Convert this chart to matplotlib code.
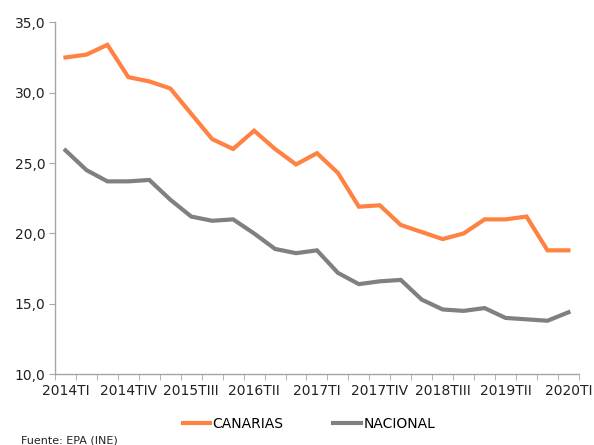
import numpy as np
import matplotlib
matplotlib.use("Agg")
import matplotlib.pyplot as plt
from matplotlib.ticker import FixedLocator, FuncFormatter

# quarters 2014TI .. 2020TI
quarters = []
for year in range(2014, 2021):
    for q in ["TI", "TII", "TIII", "TIV"]:
        quarters.append(str(year) + q)
quarters = quarters[:25]

canarias = [32.5, 32.7, 33.4, 31.1, 30.8, 30.3, 28.5, 26.7, 26.0, 27.3,
            26.0, 24.9, 25.7, 24.3, 21.9, 22.0, 20.6, 20.1, 19.6, 20.0,
            21.0, 21.0, 21.2, 18.8, 18.8]
nacional = [25.9, 24.5, 23.7, 23.7, 23.8, 22.4, 21.2, 20.9, 21.0, 20.0,
            18.9, 18.6, 18.8, 17.2, 16.4, 16.6, 16.7, 15.3, 14.6, 14.5,
            14.7, 14.0, 13.9, 13.8, 14.4]

orange = "#FF8243"
grey = "#808080"
axis_col = "#A6A6A6"

fig = plt.figure(figsize=(5.94, 4.45), dpi=100)
ax = fig.add_axes([0.0926, 0.159, 0.882, 0.791])

x = np.arange(len(quarters))
ax.plot(x, canarias, color=orange, lw=3, label="CANARIAS", solid_joinstyle="miter")
ax.plot(x, nacional, color=grey, lw=3, label="NACIONAL", solid_joinstyle="miter")

ax.set_xlim(-0.5, len(quarters) - 0.5)
ax.set_ylim(10, 35)

for s in ["top", "right"]:
    ax.spines[s].set_visible(False)
for s in ["left", "bottom"]:
    ax.spines[s].set_color(axis_col)
    ax.spines[s].set_linewidth(1)

ax.set_yticks(np.arange(10, 36, 5))
ax.yaxis.set_major_formatter(FuncFormatter(lambda v, p: ("%.1f" % v).replace(".", ",")))
ax.tick_params(axis="y", length=4, color=axis_col, labelsize=10, pad=3, labelcolor="#222222")

ax.set_xticks(x[::3])
ax.set_xticklabels(quarters[::3])
ax.xaxis.set_minor_locator(FixedLocator(np.arange(-0.5, len(quarters), 1)))
ax.tick_params(axis="x", which="major", length=0, labelsize=10, pad=7, labelcolor="#222222")
ax.tick_params(axis="x", which="minor", length=4, color=axis_col)

fig.legend(loc="lower center", bbox_to_anchor=(0.52, 0.004), ncol=2, frameon=False,
           fontsize=10, handlelength=2.0, handletextpad=0.15, columnspacing=3.6)
fig.text(0.035, 0.004, "Fuente: EPA (INE)", fontsize=8, color="#222222")

fig.savefig("out.png", dpi=100)
